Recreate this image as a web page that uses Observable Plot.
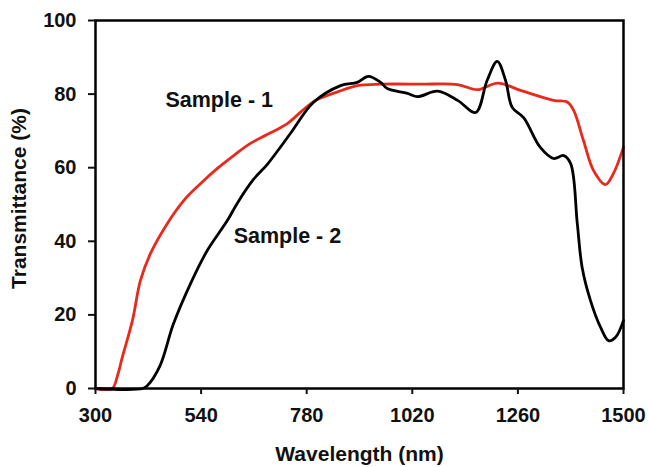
<!DOCTYPE html>
<html>
<head>
<meta charset="utf-8">
<script src="https://cdn.jsdelivr.net/npm/d3@7"></script>
<script src="https://cdn.jsdelivr.net/npm/@observablehq/plot@0.6"></script>
<style>
  html, body { margin: 0; padding: 0; background: #fff; }
  #chart svg { display: block; }
</style>
</head>
<body>
<div id="chart"></div>
<script>
// Sample - 1 (red)
const sample1Wavelength = [300, 338, 350, 361, 384, 402, 425, 463, 500, 539, 577, 614, 652, 690, 736, 770, 800, 850, 895, 948, 1039, 1123, 1168, 1214, 1266, 1341, 1373, 1387, 1409, 1432, 1459, 1477, 1500];
const sample1Transmittance = [0, 0, 3.5, 8.5, 18.5, 29.3, 36.7, 44.8, 51, 55.7, 59.8, 63.3, 66.6, 69, 72, 75.5, 78.3, 80.6, 82.3, 82.7, 82.7, 82.6, 81.2, 83, 81, 78.3, 77.8, 75.5, 67.4, 59.2, 55.4, 58.4, 65.6];
// Sample - 2 (black)
const sample2Wavelength = [300, 407, 418, 446, 477, 516, 554, 600, 622, 659, 691, 743, 795, 857, 895, 920, 948, 963, 1009, 1032, 1077, 1123, 1164, 1190, 1213, 1232, 1247, 1273, 1311, 1341, 1364, 1380, 1395, 1406, 1425, 1448, 1466, 1482, 1500];
const sample2Transmittance = [0, 0, 0.8, 6, 17.5, 28.5, 37.5, 45.7, 50.3, 56.8, 61, 69.3, 77.7, 82.3, 83.2, 84.8, 83.2, 81.5, 80.2, 79.3, 80.8, 78.3, 75, 83.7, 88.9, 83.7, 76.4, 73.6, 65.5, 62.5, 63.3, 61.1, 44.8, 32.9, 23.9, 16.6, 13, 13.9, 18.5];

const xTicks = [300, 540, 780, 1020, 1260, 1500];
const yTicks = [0, 20, 40, 60, 80, 100];
const seriesNames = ["Sample - 1", "Sample - 2"];

const s1 = sample1Wavelength.map((w, i) => ({w, t: sample1Transmittance[i]}));
const s2 = sample2Wavelength.map((w, i) => ({w, t: sample2Transmittance[i]}));
const labels = [
  {w: 459, t: 78.3, name: seriesNames[0]},
  {w: 614, t: 41.3, name: seriesNames[1]}
];

const font = "'Liberation Sans', Arial, sans-serif";
const fmt = d => String(d);
const chart = Plot.plot({
  width: 648,
  height: 467,
  marginLeft: 95,
  marginRight: 25,
  marginTop: 20,
  marginBottom: 79,
  style: {fontFamily: font, fontWeight: "bold", fontSize: "20px", color: "#111", background: "#fff"},
  x: {domain: [300, 1500], label: null},
  y: {domain: [0, 100], label: null},
  marks: [
    Plot.line(s1, {x: "w", y: "t", stroke: "#e8291c", strokeWidth: 2.8, curve: "catmull-rom"}),
    Plot.line(s2, {x: "w", y: "t", stroke: "#000", strokeWidth: 2.8, curve: "catmull-rom"}),
    Plot.frame({stroke: "#000", strokeWidth: 2.5}),
    Plot.axisX({ticks: xTicks, tickFormat: fmt, tickSize: 6, tickPadding: 13, strokeWidth: 2, label: null, fontSize: 20}),
    Plot.axisY({ticks: yTicks, tickFormat: fmt, tickSize: 7, tickPadding: 12, strokeWidth: 2, label: null, fontSize: 20}),
    Plot.text(labels, {x: "w", y: "t", text: "name", textAnchor: "start", fontSize: 21.5, fontWeight: "bold", fill: "#111"}),
    Plot.text(["Wavelength (nm)"], {frameAnchor: "bottom", textAnchor: "middle", dy: 72, fontSize: 21, fontWeight: "bold", fill: "#111"}),
    Plot.text(["Transmittance (%)"], {frameAnchor: "left", textAnchor: "middle", dx: -76, dy: -6, rotate: -90, fontSize: 21, fontWeight: "bold", fill: "#111"})
  ]
});
document.getElementById("chart").appendChild(chart);
</script>
</body>
</html>
